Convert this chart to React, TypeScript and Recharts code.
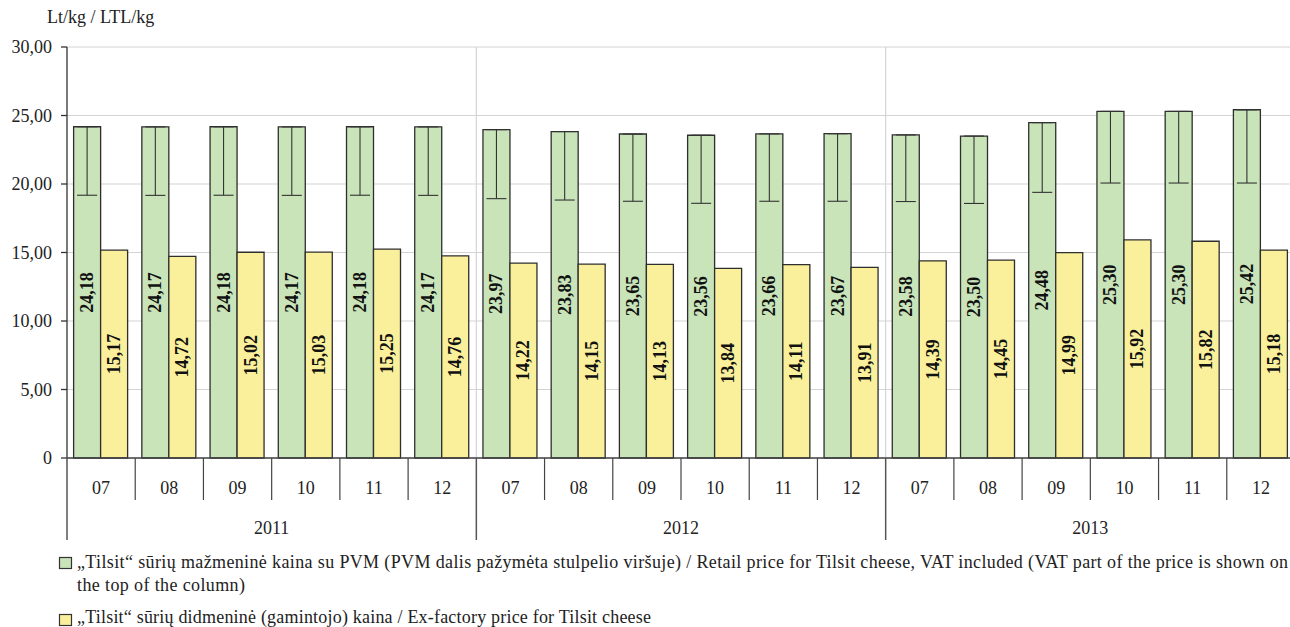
import React from 'react';
import { BarChart, Bar, XAxis, YAxis, CartesianGrid, ErrorBar, LabelList } from 'recharts';

const months = ['07', '08', '09', '10', '11', '12', '07', '08', '09', '10', '11', '12', '07', '08', '09', '10', '11', '12'];
const years = ['2011', '2011', '2011', '2011', '2011', '2011', '2012', '2012', '2012', '2012', '2012', '2012', '2013', '2013', '2013', '2013', '2013', '2013'];
const retail = [24.18, 24.17, 24.18, 24.17, 24.18, 24.17, 23.97, 23.83, 23.65, 23.56, 23.66, 23.67, 23.58, 23.5, 24.48, 25.3, 25.3, 25.42];
const exFactory = [15.17, 14.72, 15.02, 15.03, 15.25, 14.76, 14.22, 14.15, 14.13, 13.84, 14.11, 13.91, 14.39, 14.45, 14.99, 15.92, 15.82, 15.18];
const vatPart = [5.0, 5.0, 5.0, 5.0, 5.0, 5.0, 5.04, 5.0, 4.91, 4.97, 4.92, 4.93, 4.86, 4.92, 5.09, 5.23, 5.23, 5.35];
const yTicks = [0, 5, 10, 15, 20, 25, 30];

const legendRetailLine1 = '„Tilsit“ sūrių mažmeninė kaina su PVM (PVM dalis pažymėta stulpelio viršuje) / Retail price for Tilsit cheese, VAT included (VAT part of the price is shown on';
const legendRetailLine2 = 'the top of the column)';
const legendExFactory = '„Tilsit“ sūrių didmeninė (gamintojo) kaina / Ex-factory price for Tilsit cheese';
const yTitle = 'Lt/kg / LTL/kg';

const GREEN = '#c9e4b9';
const YELLOW = '#faf09b';
const FONT = '"Liberation Serif", "Times New Roman", serif';

const data = months.map((m, i) => ({
  key: `${years[i]}-${m}`,
  month: m,
  year: years[i],
  retail: retail[i],
  exFactory: exFactory[i],
  vatErr: [vatPart[i], 0],
}));

const CHART_W = 1300;
const CHART_H = 627;
const MARGIN = { top: 47, right: 5, left: 0, bottom: 87 };
const Y_W = 67;
const X_H = 82;
const PLOT_LEFT = MARGIN.left + Y_W;
const PLOT_RIGHT = CHART_W - MARGIN.right;
const PLOT_BOTTOM = CHART_H - MARGIN.bottom - X_H;
const BAND = (PLOT_RIGHT - PLOT_LEFT) / data.length;

const fmt = (v: number) => (v === 0 ? '0' : v.toFixed(2).replace('.', ','));

const MonthTick = (props: any) => {
  const { x, payload } = props;
  const index = props.index ?? payload.index;
  const left = x - BAND / 2;
  const yearStart = index % 6 === 0;
  return (
    <g>
      <line x1={left} x2={left} y1={PLOT_BOTTOM} y2={yearStart ? PLOT_BOTTOM + 82 : PLOT_BOTTOM + 42} stroke={yearStart ? '#555' : '#444'} strokeWidth={yearStart ? 1.5 : 1.2} />
      <text x={x} y={PLOT_BOTTOM + 30} textAnchor="middle" dominantBaseline="central" fontFamily={FONT} fontSize={18} fill="#222">
        {months[index]}
      </text>
      {index % 6 === 2 && (
        <text x={x + BAND / 2} y={PLOT_BOTTOM + 70} textAnchor="middle" dominantBaseline="central" fontFamily={FONT} fontSize={18} fill="#222">
          {years[index]}
        </text>
      )}
    </g>
  );
};

const barLabel = (props: any) => {
  const { x, y, width, height, value } = props;
  const cx = x + width / 2;
  const cy = y + height / 2;
  return (
    <text x={cx} y={cy} transform={`rotate(-90 ${cx} ${cy})`} textAnchor="middle" dominantBaseline="central" fontFamily={FONT} fontSize={18} fontWeight="bold" fill="#111">
      {fmt(value)}
    </text>
  );
};

export default function App() {
  return (
    <div style={{ position: 'absolute', left: 0, top: 0, width: 1290, height: 627, overflow: 'hidden', background: '#fff' }}>
      <BarChart width={CHART_W} height={CHART_H} data={data} margin={MARGIN} barCategoryGap="9.7%" barGap={0}>
        <CartesianGrid
          stroke="#d4d4d4"
          strokeWidth={1.2}
          vertical={true}
          verticalCoordinatesGenerator={({ offset }: any) => {
            const b = offset.width / data.length;
            return [offset.left + 6 * b, offset.left + 12 * b];
          }}
        />
        <YAxis
          domain={[0, 30]}
          ticks={yTicks}
          width={Y_W}
          tickSize={6}
          tickMargin={9}
          axisLine={{ stroke: '#333', strokeWidth: 1.3 }}
          tickLine={{ stroke: '#333', strokeWidth: 1.3 }}
          tick={{ fontFamily: FONT, fontSize: 18, fill: '#222' }}
          tickFormatter={fmt}
          interval={0}
        />
        <XAxis
          dataKey="key"
          height={X_H}
          interval={0}
          tickLine={false}
          axisLine={{ stroke: '#444', strokeWidth: 1.5 }}
          tick={<MonthTick />}
        />
        <Bar dataKey="retail" fill={GREEN} stroke="#2e2e2e" strokeWidth={1.3} isAnimationActive={false}>
          <ErrorBar dataKey="vatErr" direction="y" width={10} stroke="#333" strokeWidth={1.1} />
          <LabelList dataKey="retail" content={barLabel} />
        </Bar>
        <Bar dataKey="exFactory" fill={YELLOW} stroke="#2e2e2e" strokeWidth={1.3} isAnimationActive={false}>
          <LabelList dataKey="exFactory" content={barLabel} />
        </Bar>
      </BarChart>
      <svg width={1290} height={627} style={{ position: 'absolute', left: 0, top: 0, pointerEvents: 'none' }}>
        <text x={47} y={23} fontFamily={FONT} fontSize={18} fill="#222">{yTitle}</text>
        <rect x={59.5} y={557.5} width={12} height={11} fill={GREEN} stroke="#333" strokeWidth={1.2} />
        <text x={77} y={568} fontFamily={FONT} fontSize={18} fill="#222" textLength={1211} lengthAdjust="spacing">{legendRetailLine1}</text>
        <text x={77} y={591} fontFamily={FONT} fontSize={18} fill="#222" textLength={168} lengthAdjust="spacing">{legendRetailLine2}</text>
        <rect x={59.5} y={614.5} width={12} height={11} fill={YELLOW} stroke="#333" strokeWidth={1.2} />
        <text x={77} y={623} fontFamily={FONT} fontSize={18} fill="#222" textLength={574} lengthAdjust="spacing">{legendExFactory}</text>
      </svg>
    </div>
  );
}
